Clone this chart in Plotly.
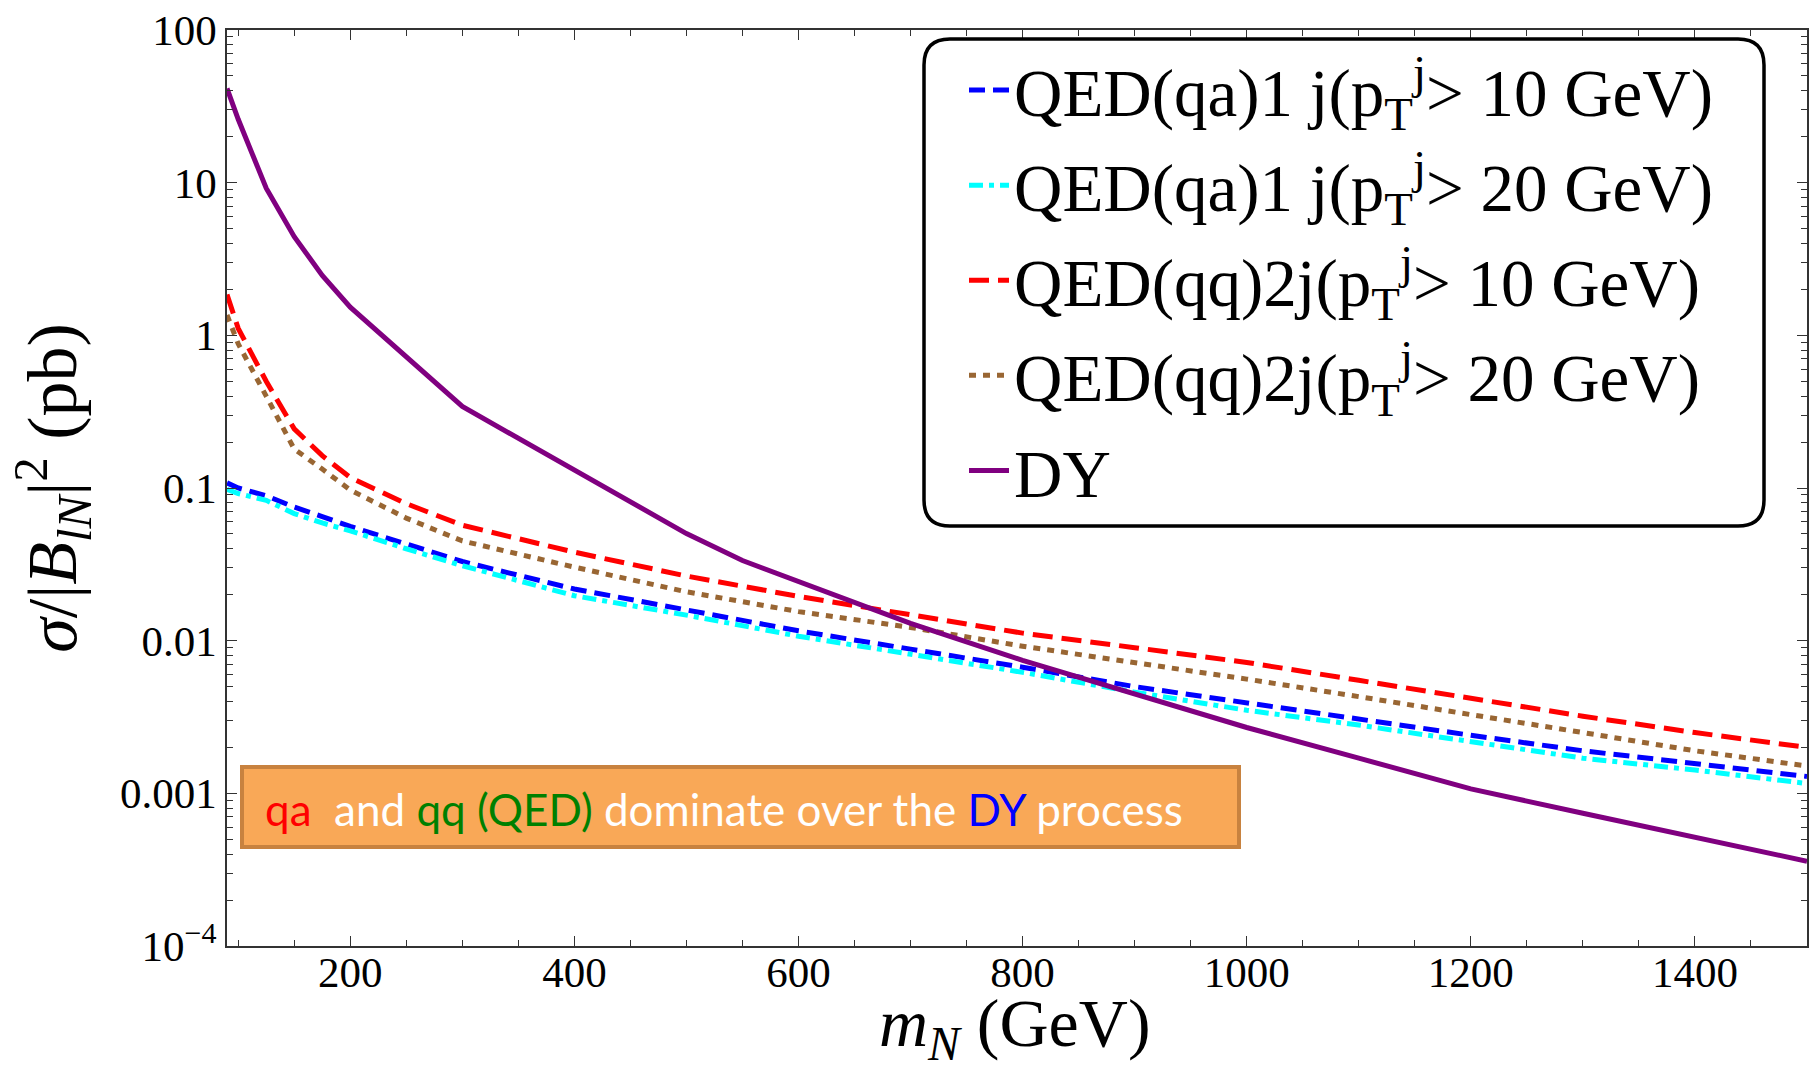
import plotly.graph_objects as go

# ---- data ----
m_N = [90, 100, 125, 150, 175, 200, 250, 300, 400, 500, 600, 700, 800, 900,
       1000, 1100, 1200, 1300, 1400, 1500]

qa_pt10 = [0.108, 0.100, 0.089, 0.075, 0.065, 0.056, 0.043, 0.033, 0.0218, 0.0158,
           0.0116, 0.0088, 0.0067, 0.0050, 0.0039, 0.0031, 0.0024, 0.0019, 0.00158, 0.00129]
qa_pt20 = [0.098, 0.092, 0.083, 0.068, 0.059, 0.0524, 0.040, 0.031, 0.0197, 0.0147,
           0.0107, 0.0081, 0.0062, 0.0046, 0.0035, 0.0028, 0.00217, 0.0017, 0.00142, 0.00116]
qq_pt10 = [1.85, 1.11, 0.50, 0.244, 0.163, 0.117, 0.079, 0.057, 0.038, 0.0265,
           0.0195, 0.0148, 0.0112, 0.0090, 0.0072, 0.0055, 0.0042, 0.0032, 0.0025, 0.0020]
qq_pt20 = [1.36, 0.88, 0.40, 0.18, 0.133, 0.097, 0.0635, 0.045, 0.0303, 0.0209,
           0.0155, 0.0122, 0.0092, 0.0072, 0.0056, 0.0043, 0.0033, 0.0025, 0.0019, 0.00151]

m_DY = [90, 100, 125, 150, 175, 200, 300, 500, 550, 600, 650, 700, 800, 900,
        1000, 1100, 1200, 1300, 1400, 1500]
dy = [41.4, 26.0, 9.2, 4.43, 2.47, 1.53, 0.342, 0.0503, 0.0335, 0.0244, 0.0175, 0.0130,
      0.00743, 0.00447, 0.0027, 0.0017, 0.00107, 0.00074, 0.00052, 0.000359]

y_tickvals = [1e-4, 1e-3, 1e-2, 1e-1, 1, 10, 100]
y_ticktext = ["10<sup>\u22124</sup>", "0.001", "0.01", "0.1", "1", "10", "100"]
x_tickvals = [200, 400, 600, 800, 1000, 1200, 1400]

names = [
    "QED(qa)1 j(p<sub>T</sub><sup>j</sup>> 10 GeV)",
    "QED(qa)1 j(p<sub>T</sub><sup>j</sup>> 20 GeV)",
    "QED(qq)2j(p<sub>T</sub><sup>j</sup>> 10 GeV)",
    "QED(qq)2j(p<sub>T</sub><sup>j</sup>> 20 GeV)",
    "DY",
]

SERIF = "Liberation Serif"
W, H = 1813, 1075
L, R, T, B = 227, 6, 30, 129
PW, PH = W - L - R, H - T - B


def px2paper(x, y):
    return (x - L) / PW, 1 - (y - T) / PH


fig = go.Figure()
styles = [
    (qa_pt10, m_N, "#0000FF", "16px,8px"),
    (qa_pt20, m_N, "#00FFFF", "14px,6px,5px,6px"),
    (qq_pt10, m_N, "#FF0000", "20px,9px"),
    (qq_pt20, m_N, "#996633", "7px,7px"),
    (dy, m_DY, "#800080", "solid"),
]
for i, (ys, xs, col, dash) in enumerate(styles):
    fig.add_trace(go.Scatter(
        x=xs, y=ys, mode="lines", name=names[i], legendgroup=f"g{i}",
        line=dict(color=col, width=5, dash=dash),
    ))

# rounded legend frame
x0, y0 = px2paper(924, 39)
x1, y1 = px2paper(1764, 526)
rx, ry = 26 / PW, 26 / PH
path = (f"M {x0+rx},{y0} L {x1-rx},{y0} Q {x1},{y0} {x1},{y0-ry} "
        f"L {x1},{y1+ry} Q {x1},{y1} {x1-rx},{y1} L {x0+rx},{y1} "
        f"Q {x0},{y1} {x0},{y1+ry} L {x0},{y0-ry} Q {x0},{y0} {x0+rx},{y0} Z")
fig.add_shape(type="path", path=path, xref="paper", yref="paper",
              line=dict(color="black", width=3.5), fillcolor="white", layer="above")

# orange note box
bx0, by0 = px2paper(242, 767)
bx1, by1 = px2paper(1239, 847)
fig.add_shape(type="rect", xref="paper", yref="paper", x0=bx0, y0=by0, x1=bx1, y1=by1,
              fillcolor="#F9A857", line=dict(color="#C8823F", width=4), layer="above")
tx, ty = px2paper(263, 809)
fig.add_annotation(
    xref="paper", yref="paper", x=tx, y=ty, xanchor="left", yanchor="middle",
    showarrow=False,
    text=("<span style='color:#FF0000'>qa</span>&nbsp; and "
          "<span style='color:#008000'>qq (QED)</span> dominate over the "
          "<span style='color:#0000FF'>DY</span> process"),
    font=dict(family="Lato", size=44, color="white"),
)

# x-axis title (placed as annotation for exact position)
xt, yt = px2paper(1015, 1027)
fig.add_annotation(
    xref="paper", yref="paper", x=xt, y=yt, xanchor="center", yanchor="middle",
    showarrow=False, text="<i>m</i><sub><i>N</i></sub> (GeV)",
    font=dict(family=SERIF, size=68, color="black"),
)

lx, ly = px2paper(964, 40)
fig.update_layout(
    width=W, height=H,
    margin=dict(l=L, r=R, t=T, b=B, autoexpand=False),
    paper_bgcolor="white", plot_bgcolor="white",
    font=dict(family=SERIF, color="black"),
    legend=dict(x=lx, y=ly, xanchor="left", yanchor="top",
                bgcolor="rgba(0,0,0,0)", borderwidth=0,
                font=dict(family=SERIF, size=67, color="black"),
                tracegroupgap=5, itemwidth=40),
    showlegend=True,
)
fig.update_xaxes(
    range=[90, 1500], tickvals=x_tickvals, ticks="inside", ticklen=10, tickwidth=1.2,
    tickcolor="#333", showline=True, linecolor="#333", linewidth=1.5, mirror="allticks",
    showgrid=False, zeroline=False, tickfont=dict(family=SERIF, size=43),
    ticklabelstandoff=-12,
    minor=dict(dtick=50, tick0=0, ticks="inside", ticklen=6, tickcolor="#333", showgrid=False),
)
fig.update_yaxes(
    type="log", range=[-4, 2], tickvals=y_tickvals, ticktext=y_ticktext,
    ticks="inside", ticklen=10, tickwidth=1.2, tickcolor="#333",
    showline=True, linecolor="#333", linewidth=1.5, mirror="allticks",
    showgrid=False, zeroline=False, tickfont=dict(family=SERIF, size=43),
    minor=dict(ticks="inside", ticklen=6, tickcolor="#333", showgrid=False,
               tickvals=[k * 10.0 ** e for e in range(-4, 2) for k in range(2, 10)]),
    title=dict(text="<i>\u03c3</i>/|<i>B</i><sub><i>lN</i></sub>|<sup>2</sup> (pb)",
               font=dict(family=SERIF, size=70), standoff=20),
)

fig.write_html("out.html")
